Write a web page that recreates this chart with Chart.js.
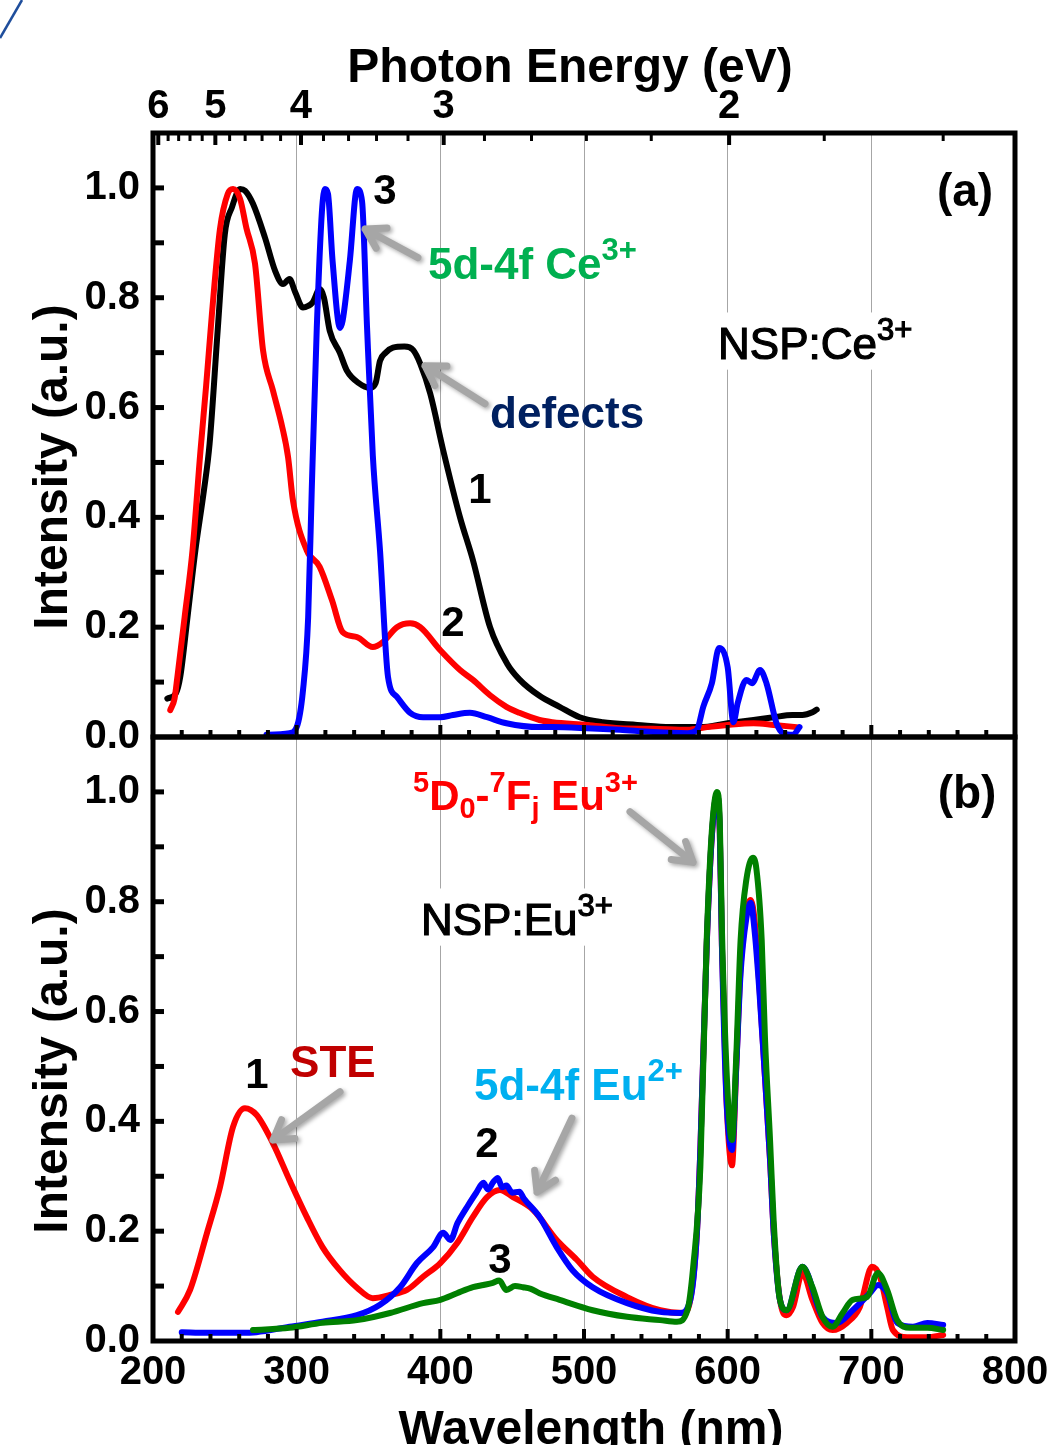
<!DOCTYPE html>
<html>
<head>
<meta charset="utf-8">
<title>NSP:Ce3+ / NSP:Eu3+ luminescence</title>
<script src="https://cdn.jsdelivr.net/npm/chart.js@4.4.1/dist/chart.umd.min.js"></script>
<style>
  html, body { margin: 0; padding: 0; background: #fff; }
  canvas { display: block; background: #fff; }
</style>
</head>
<body>
<canvas id="spectra" width="1053" height="1445"></canvas>
<script>
// ---------- panel (a): NSP:Ce3+ ----------
const ceCurve1Nm = [210, 216, 219, 224, 229.5, 235.5, 239.4, 245, 250, 255, 260.6, 264, 269.6, 278, 285, 290.5, 295, 299, 304.4, 308,
  311, 316.2, 319, 323, 330, 335, 343, 351, 355, 358, 362, 367, 375, 381, 386, 393, 402, 413.7, 422.7, 434.6,
  446.4, 455, 469, 483, 497, 513, 537, 560, 581, 600, 618, 632, 645, 652, 659, 662];
const ceCurve1I = [0.07, 0.08, 0.11, 0.218, 0.34, 0.45, 0.534, 0.74, 0.916, 0.965, 0.998, 0.995, 0.971, 0.909, 0.849, 0.825, 0.834, 0.81, 0.782, 0.785,
  0.791, 0.816, 0.80, 0.74, 0.70, 0.667, 0.645, 0.636, 0.645, 0.685, 0.70, 0.709, 0.711, 0.705, 0.68, 0.625, 0.522, 0.40, 0.322, 0.2,
  0.134, 0.105, 0.075, 0.055, 0.036, 0.027, 0.022, 0.018, 0.018, 0.025, 0.031, 0.036, 0.04, 0.04, 0.045, 0.05];

const ceCurve2Nm = [212, 215, 217, 222, 227.5, 233, 237, 241, 246.6, 252, 255.7, 260.6, 265, 271, 276.6, 283.5, 290, 294, 297.4, 307,
  316, 324.6, 332, 342, 353, 360, 369.8, 379, 386, 400, 413.7, 422.7, 434.6, 446, 455, 469, 478, 502, 525, 548,
  572, 585.6, 600, 618, 632, 648];
const ceCurve2I = [0.049, 0.07, 0.11, 0.218, 0.34, 0.52, 0.64, 0.77, 0.925, 0.989, 0.998, 0.98, 0.927, 0.862, 0.704, 0.631, 0.564, 0.51, 0.431, 0.34,
  0.31, 0.249, 0.191, 0.182, 0.164, 0.173, 0.2, 0.207, 0.2, 0.158, 0.122, 0.104, 0.076, 0.055, 0.044, 0.031, 0.027, 0.022, 0.016, 0.015,
  0.013, 0.018, 0.022, 0.025, 0.022, 0.018];

const ceCurve3Nm = [279, 295, 300, 304.4, 308, 310.5, 314, 317.6, 319.7, 321.8, 325, 330.2, 332, 337, 342, 345.5, 349, 353, 358, 363.6,
  369.8, 379, 388, 400, 408.8, 420.6, 432.5, 446, 469, 478, 502, 525, 548, 572, 578.6, 583, 589, 594, 600, 604,
  607, 613, 617, 622.5, 627, 634, 638.5, 645.5, 650];
const ceCurve3I = [0.004, 0.007, 0.018, 0.085, 0.218, 0.45, 0.745, 0.958, 0.998, 0.989, 0.867, 0.745, 0.758, 0.867, 0.998, 0.976, 0.745, 0.513, 0.34, 0.109,
  0.073, 0.044, 0.036, 0.036, 0.04, 0.044, 0.036, 0.025, 0.018, 0.018, 0.016, 0.013, 0.009, 0.007, 0.013, 0.055, 0.098, 0.162, 0.127, 0.027,
  0.062, 0.104, 0.098, 0.122, 0.098, 0.025, 0.007, 0.004, 0.018];

// ---------- panel (b): NSP:Eu3+ ----------
const euCurve1Nm = [217.4, 225.8, 237.6, 246.6, 255.7, 264, 272, 283.5, 295, 307, 318, 330, 342, 353, 365, 376.8, 388, 400, 411.6, 422.7,
  432.5, 441.5, 450.6, 464.5, 481, 495, 506, 530, 553, 569, 574, 578.6, 581, 585.4, 589, 592.6, 594.5, 596, 599, 603,
  606, 609, 613, 616, 619, 622, 625.5, 629.5, 632, 636.4, 641, 645.5, 652, 659, 666, 673, 683, 692, 700.5, 706,
  711, 715, 725, 739, 750];
const euCurve1I = [0.053, 0.093, 0.197, 0.28, 0.39, 0.424, 0.412, 0.36, 0.293, 0.226, 0.171, 0.129, 0.097, 0.078, 0.084, 0.093, 0.117, 0.142, 0.178, 0.226,
  0.262, 0.275, 0.262, 0.239, 0.184, 0.148, 0.117, 0.08, 0.056, 0.051, 0.075, 0.197, 0.35, 0.72, 0.92, 0.995, 0.93, 0.72, 0.45, 0.32,
  0.5, 0.68, 0.78, 0.803, 0.76, 0.65, 0.5, 0.33, 0.2, 0.075, 0.047, 0.062, 0.124, 0.075, 0.033, 0.02, 0.033, 0.062, 0.135, 0.117,
  0.062, 0.02, 0.007, 0.007, 0.011];

const euCurve2Nm = [220, 237.6, 260.6, 272, 295, 318, 342, 358, 372, 383.7, 395, 402, 407, 412, 418.6, 425, 430, 433, 437, 440,
  443, 446, 450, 455, 458, 469, 481, 492, 506, 530, 553, 567, 574, 578.6, 581, 585.4, 589, 592.6, 594.5, 596,
  599, 603, 606, 609, 613, 616, 619, 622, 625.5, 629.5, 632, 636.4, 641, 652, 666, 676, 687, 699, 704.6, 711,
  718, 729, 739, 750];
const euCurve2I = [0.016, 0.015, 0.015, 0.016, 0.026, 0.035, 0.047, 0.066, 0.098, 0.142, 0.171, 0.197, 0.184, 0.215, 0.244, 0.27, 0.288, 0.276, 0.29, 0.297,
  0.28, 0.283, 0.27, 0.272, 0.26, 0.226, 0.171, 0.129, 0.098, 0.069, 0.053, 0.051, 0.075, 0.197, 0.35, 0.72, 0.92, 0.995, 0.93, 0.72,
  0.45, 0.348, 0.5, 0.67, 0.77, 0.798, 0.74, 0.64, 0.5, 0.33, 0.2, 0.075, 0.056, 0.135, 0.044, 0.033, 0.056, 0.087, 0.102, 0.087,
  0.033, 0.026, 0.033, 0.029];

const euCurve3Nm = [269.6, 295, 318, 342, 365, 388, 400, 411.6, 422.7, 430, 436.6, 441, 446, 452, 457.5, 463, 469, 483, 506, 530,
  553, 564.7, 572, 576, 581, 585.4, 589, 592.6, 594.5, 596, 600, 603, 606, 609, 613, 617.6, 620, 623.7, 626, 629.5,
  632, 636, 641, 652, 659, 666, 673, 680, 687, 697, 704.6, 711, 718, 727, 739, 750];
const euCurve3I = [0.02, 0.024, 0.033, 0.038, 0.051, 0.069, 0.075, 0.087, 0.098, 0.102, 0.106, 0.11, 0.093, 0.1, 0.098, 0.095, 0.087, 0.075, 0.056, 0.044,
  0.038, 0.035, 0.056, 0.135, 0.317, 0.73, 0.93, 1.0, 0.95, 0.75, 0.45, 0.366, 0.52, 0.73, 0.84, 0.88, 0.86, 0.73, 0.55, 0.366,
  0.22, 0.08, 0.056, 0.135, 0.098, 0.044, 0.026, 0.051, 0.075, 0.08, 0.124, 0.093, 0.038, 0.024, 0.024, 0.02];

// ---------- axes ----------
const yLabelValues = [0, 0.2, 0.4, 0.6, 0.8, 1.0];
const yTickValues = [0.1, 0.2, 0.3, 0.4, 0.5, 0.6, 0.7, 0.8, 0.9, 1.0];
const energyLabels = [6, 5, 4, 3, 2];
const energyMinor = [5.8, 5.6, 5.4, 5.2, 4.8, 4.6, 4.4, 4.2, 3.8, 3.6, 3.4, 3.2, 2.8, 2.6, 2.4, 2.2, 1.8, 1.6];
// top scale: nm = 1192 / E + 5
const EV_NM = 1192, EV_SHIFT = 5;
const eVToNm = e => EV_NM / e + EV_SHIFT;

const FONT = "'Liberation Sans', Arial, Helvetica, sans-serif";
Chart.defaults.font.family = FONT;
Chart.defaults.color = '#000';

function pts(xs, ys) {
  return xs.map((x, i) => ({ x: x, y: ys[i] }));
}

function line(data, color, axis) {
  return {
    data: data,
    yAxisID: axis,
    borderColor: color,
    borderWidth: 6,
    pointRadius: 0,
    fill: false,
    cubicInterpolationMode: 'monotone',
    borderJoinStyle: 'round',
    borderCapStyle: 'round'
  };
}

// rich text: segments of [text, level] with level 1 = superscript, -1 = subscript
function drawRich(ctx, x, y, segs, o) {
  const size = o.size, small = Math.round(size * 0.7), weight = o.weight || 'bold';
  const fontFor = lv => weight + ' ' + (lv ? small : size) + 'px ' + FONT;
  let w = 0;
  segs.forEach(s => { ctx.font = fontFor(s[1] || 0); w += ctx.measureText(s[0]).width; });
  let cx = o.align === 'center' ? x - w / 2 : x;
  if (o.bg) {
    ctx.fillStyle = '#fff';
    ctx.fillRect(cx - 4, y - size * 1.05, w + 8, size * 1.3);
  }
  ctx.fillStyle = o.color || '#000';
  ctx.strokeStyle = o.color || '#000';
  ctx.lineWidth = o.thicken || 0;
  ctx.textAlign = 'left';
  ctx.textBaseline = 'alphabetic';
  segs.forEach(s => {
    const lv = s[1] || 0;
    ctx.font = fontFor(lv);
    const dy = lv > 0 ? -size * 0.42 : (lv < 0 ? size * 0.2 : 0);
    ctx.fillText(s[0], cx, y + dy);
    if (o.thicken) ctx.strokeText(s[0], cx, y + dy);
    cx += ctx.measureText(s[0]).width;
  });
}

function arrow(ctx, x0, y0, x1, y1) {
  const a = Math.atan2(y1 - y0, x1 - x0), h = 22;
  ctx.save();
  ctx.strokeStyle = '#a6a6a6';
  ctx.lineWidth = 7;
  ctx.lineCap = 'round';
  ctx.lineJoin = 'round';
  ctx.shadowColor = 'rgba(0,0,0,0.35)';
  ctx.shadowBlur = 4;
  ctx.shadowOffsetX = 2;
  ctx.shadowOffsetY = 2;
  ctx.beginPath();
  ctx.moveTo(x0, y0);
  ctx.lineTo(x1, y1);
  ctx.moveTo(x1 - h * Math.cos(a - 0.55), y1 - h * Math.sin(a - 0.55));
  ctx.lineTo(x1, y1);
  ctx.lineTo(x1 - h * Math.cos(a + 0.55), y1 - h * Math.sin(a + 0.55));
  ctx.stroke();
  ctx.restore();
}

const framePlugin = {
  id: 'frameAndNotes',
  afterDatasetsDraw(chart) {
    const ctx = chart.ctx;
    const x = chart.scales.x, ya = chart.scales.yA, yb = chart.scales.yB;
    const left = chart.chartArea.left, right = chart.chartArea.right;

    ctx.save();
    // inward ticks
    ctx.strokeStyle = '#000';
    ctx.lineCap = 'butt';
    [ya, yb].forEach(s => {
      ctx.lineWidth = 5;
      yTickValues.forEach(v => {
        const py = s.getPixelForValue(v);
        ctx.beginPath(); ctx.moveTo(left, py); ctx.lineTo(left + 11, py); ctx.stroke();
      });
      ctx.lineWidth = 4;
      for (let nm = 220; nm < 800; nm += 20) {
        const px = x.getPixelForValue(nm), major = nm % 100 === 0;
        ctx.beginPath(); ctx.moveTo(px, s.bottom); ctx.lineTo(px, s.bottom - (major ? 12 : 7)); ctx.stroke();
      }
    });
    ctx.lineWidth = 4;
    energyLabels.forEach(e => {
      const px = x.getPixelForValue(eVToNm(e));
      ctx.beginPath(); ctx.moveTo(px, ya.top); ctx.lineTo(px, ya.top + 12); ctx.stroke();
    });
    ctx.lineWidth = 3;
    energyMinor.forEach(e => {
      const px = x.getPixelForValue(eVToNm(e));
      ctx.beginPath(); ctx.moveTo(px, ya.top); ctx.lineTo(px, ya.top + 8); ctx.stroke();
    });

    // frames
    ctx.lineWidth = 5;
    ctx.strokeRect(left, ya.top, right - left, ya.bottom - ya.top);
    ctx.strokeRect(left, yb.top, right - left, yb.bottom - yb.top);

    // notes, panel (a)
    const P = (s, nm, v) => [x.getPixelForValue(nm), s.getPixelForValue(v)];
    let p, q;
    p = P(ya, 384.4, 0.873); q = P(ya, 347.6, 0.925); arrow(ctx, p[0], p[1], q[0], q[1]);
    p = P(ya, 431.1, 0.607); q = P(ya, 389.3, 0.676); arrow(ctx, p[0], p[1], q[0], q[1]);
    p = P(ya, 361.5, 0.971); drawRich(ctx, p[0], p[1], [['3']], { size: 42, align: 'center' });
    p = P(ya, 391.4, 0.835); drawRich(ctx, p[0], p[1], [['5d-4f Ce'], ['3+', 1]], { size: 44, color: '#00b050' });
    p = P(ya, 434.6, 0.562); drawRich(ctx, p[0], p[1], [['defects']], { size: 44, color: '#002060' });
    p = P(ya, 427.6, 0.427); drawRich(ctx, p[0], p[1], [['1']], { size: 42, align: 'center' });
    p = P(ya, 408.8, 0.184); drawRich(ctx, p[0], p[1], [['2']], { size: 42, align: 'center' });
    p = P(ya, 593.3, 0.689); drawRich(ctx, p[0], p[1], [['NSP:Ce'], ['3+', 1]], { size: 44, weight: 'normal', bg: true, thicken: 1.2 });
    p = P(ya, 765.2, 0.967); drawRich(ctx, p[0], p[1], [['(a)']], { size: 46, align: 'center' });

    // notes, panel (b)
    p = P(yb, 532, 0.964); q = P(yb, 575.9, 0.872); arrow(ctx, p[0], p[1], q[0], q[1]);
    p = P(yb, 330.2, 0.454); q = P(yb, 283.5, 0.366); arrow(ctx, p[0], p[1], q[0], q[1]);
    p = P(yb, 491.6, 0.406); q = P(yb, 467.3, 0.271); arrow(ctx, p[0], p[1], q[0], q[1]);
    p = P(yb, 381, 0.967);
    drawRich(ctx, p[0], p[1], [['5', 1], ['D'], ['0', -1], ['-'], ['7', 1], ['F'], ['j', -1], [' Eu'], ['3+', 1]], { size: 42, color: '#ff0000' });
    p = P(yb, 766.6, 0.971); drawRich(ctx, p[0], p[1], [['(b)']], { size: 46, align: 'center' });
    p = P(yb, 386.5, 0.74); drawRich(ctx, p[0], p[1], [['NSP:Eu'], ['3+', 1]], { size: 44, weight: 'normal', bg: true, thicken: 1.2 });
    p = P(yb, 272.4, 0.461); drawRich(ctx, p[0], p[1], [['1']], { size: 42, align: 'center' });
    p = P(yb, 295.4, 0.481); drawRich(ctx, p[0], p[1], [['STE']], { size: 44, color: '#c00000' });
    p = P(yb, 423.4, 0.439); drawRich(ctx, p[0], p[1], [['5d-4f Eu'], ['2+', 1]], { size: 44, color: '#00b0f0' });
    p = P(yb, 432.5, 0.335); drawRich(ctx, p[0], p[1], [['2']], { size: 42, align: 'center' });
    p = P(yb, 441.5, 0.124); drawRich(ctx, p[0], p[1], [['3']], { size: 42, align: 'center' });

    // axis titles
    ctx.fillStyle = '#000';
    ctx.font = 'bold 48px ' + FONT;
    ctx.textAlign = 'center';
    ctx.textBaseline = 'alphabetic';
    ctx.fillText('Photon Energy (eV)', 570, 82);
    ctx.fillText('Wavelength (nm)', 591, 1444);
    [ya, yb].forEach(s => {
      ctx.save();
      ctx.translate(67, (s.top + s.bottom) / 2 + 32);
      ctx.rotate(-Math.PI / 2);
      ctx.fillText('Intensity (a.u.)', 0, 0);
      ctx.restore();
    });

    // stray corner stroke in the source image
    ctx.strokeStyle = '#1f4e9c';
    ctx.lineWidth = 2.5;
    ctx.beginPath(); ctx.moveTo(22, 0); ctx.lineTo(0, 38); ctx.stroke();
    ctx.restore();
  }
};

const yScale = {
  type: 'linear',
  position: 'left',
  stack: 'panels',
  stackWeight: 1,
  min: 0,
  max: 1.1,
  afterBuildTicks: s => { s.ticks = yLabelValues.map(v => ({ value: v })); },
  afterFit: s => { s.width = 153; },
  ticks: { callback: v => v.toFixed(1), font: { size: 40, weight: 'bold' }, color: '#000', padding: 13 },
  grid: { display: false, drawTicks: false },
  border: { display: false }
};

// keep the edge labels from widening the side margins
function fixX(height) {
  return s => { s.height = height; s.paddingLeft = 0; s.paddingRight = 0; };
}

new Chart(document.getElementById('spectra'), {
  type: 'line',
  data: {
    datasets: [
      line(pts(ceCurve3Nm, ceCurve3I), '#0000ff', 'yA'),
      line(pts(ceCurve2Nm, ceCurve2I), '#ff0000', 'yA'),
      line(pts(ceCurve1Nm, ceCurve1I), '#000000', 'yA'),
      line(pts(euCurve3Nm, euCurve3I), '#008000', 'yB'),
      line(pts(euCurve2Nm, euCurve2I), '#0000ff', 'yB'),
      line(pts(euCurve1Nm, euCurve1I), '#ff0000', 'yB')
    ]
  },
  options: {
    responsive: false,
    devicePixelRatio: 1,
    animation: false,
    layout: { padding: { left: 0, right: 38, top: 0, bottom: 0 } },
    plugins: { legend: { display: false }, tooltip: { enabled: false } },
    scales: {
      x: {
        type: 'linear',
        position: 'bottom',
        min: 200,
        max: 800,
        afterFit: fixX(104),
        ticks: { stepSize: 100, font: { size: 40, weight: 'bold' }, color: '#000', padding: 8, maxRotation: 0, autoSkip: false },
        grid: {
          drawTicks: false,
          lineWidth: 1,
          color: c => (c.tick && (c.tick.value === 200 || c.tick.value === 800)) ? 'rgba(0,0,0,0)' : '#a6a6a6'
        },
        border: { display: false }
      },
      xTop: {
        type: 'linear',
        position: 'top',
        min: 200,
        max: 800,
        afterBuildTicks: s => { s.ticks = energyLabels.map(e => ({ value: eVToNm(e) })); },
        afterFit: fixX(133),
        ticks: { callback: (v, i) => String(energyLabels[i]), font: { size: 40, weight: 'bold' }, color: '#000', padding: 2, maxRotation: 0, autoSkip: false },
        grid: { display: false, drawTicks: false },
        border: { display: false }
      },
      yB: Object.assign({}, yScale),
      yA: Object.assign({}, yScale)
    }
  },
  plugins: [framePlugin]
});
</script>
</body>
</html>
